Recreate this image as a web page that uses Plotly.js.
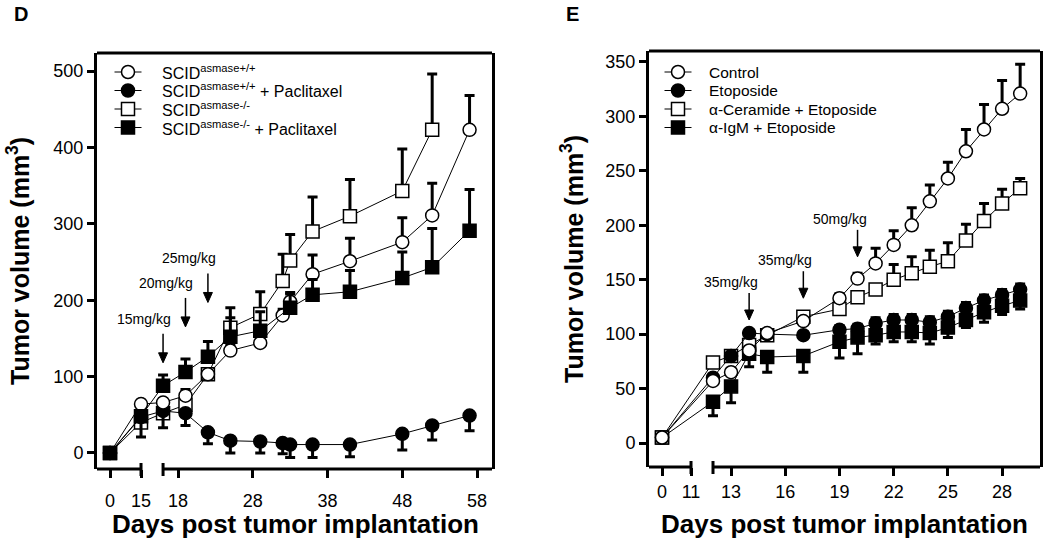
<!DOCTYPE html>
<html><head><meta charset="utf-8">
<script src="https://cdn.plot.ly/plotly-3.0.1.min.js"></script>
<style>html,body{margin:0;padding:0;background:#fff}#chart{width:1050px;height:543px}</style>
</head><body><div id="chart"></div>
<script>
// ---------- Panel D data ----------
const daysD = [0, 15, 16, 19, 22, 25, 29, 32, 33, 36, 41, 48, 52, 57];
const wtD       = [0, 64, 66, 75, 103, 134, 144, 180, 198, 234, 251, 276, 311, 423];
const wtDErr    = [0, 5, 5, 8, 5, 8, 5, 8, 10, 25, 30, 32, 42, 45];
const wtPacD    = [0, 47, 55, 52, 27, 16, 15, 13, 11, 11, 11, 25, 36, 49];
const wtPacDErr = [0, 26, 22, 16, 15, 16, 15, 14, 17, 17, 16, 21, 19, 20];
const koD       = [0, 40, 52, 63, 103, 164, 182, 225, 252, 290, 310, 343, 423, null];
const koDErr    = [0, 5, 5, 10, 5, 26, 29, 35, 34, 45, 48, 55, 73, null];
const koPacD    = [0, 48, 88, 106, 126, 152, 160, null, 190, 207, 211, 229, 243, 291];
const koPacDErr = [0, 5, 14, 17, 20, 25, 25, null, 20, 20, 28, 34, 51, 54];
const namesD = ['SCID<sup>asmase+/+</sup>', 'SCID<sup>asmase+/+</sup> + Paclitaxel',
                'SCID<sup>asmase-/-</sup>', 'SCID<sup>asmase-/-</sup> + Paclitaxel'];
const tickDaysD = [0, 15, 18, 28, 38, 48, 58];
const yTicksD = [0, 100, 200, 300, 400, 500];
const doseDaysD = [16, 19, 22];
const doseLabelsD = ['15mg/kg', '20mg/kg', '25mg/kg'];
const doseTipD = [118, 165, 197];

// ---------- Panel E data ----------
const daysE = [0, 12, 13, 14, 15, 17, 19, 20, 21, 22, 23, 24, 25, 26, 27, 28, 29];
const ctrlE    = [5, 57, 65, 85, 101, 112, 133, 151, 165, 182, 200, 222, 243, 268, 288, 307, 321];
const ctrlEErr = [0, 3, 3, 3, 3, 3, 4, 5, 14, 13, 16, 15, 15, 20, 23, 26, 27];
const etoE     = [5, 60, 80, 101, 100, 99, 104, 105, 110, 113, 113, 111, 116, 124, 131, 136, 141];
const etoEErr  = [0, 3, 3, 3, 3, 3, 4, 4, 5, 5, 5, 5, 5, 5, 5, 5, 5];
const cerE     = [5, 74, 80, 90, 99, 116, 123, 134, 141, 150, 156, 162, 167, 186, 204, 220, 234];
const cerEErr  = [0, 3, 3, 3, 3, 3, 3, 3, 3, 14, 15, 15, 17, 15, 16, 13, 9];
const igmE     = [5, 38, 52, 82, 79, 80, 93, 97, 99, 102, 102, 101, 106, 113, 120, 126, 131];
const igmEErr  = [0, 13, 15, 12, 14, 15, 15, 15, 8, 9, 9, 10, 9, 7, 9, 8, 8];
const namesE = ['Control', 'Etoposide', 'α-Ceramide + Etoposide', 'α-IgM + Etoposide'];
const tickDaysE = [0, 11, 13, 16, 19, 22, 25, 28];
const yTicksE = [0, 50, 100, 150, 200, 250, 300, 350];
const doseDaysE = [14, 17, 20];
const doseLabelsE = ['35mg/kg', '35mg/kg', '50mg/kg'];
const doseTipE = [113, 133, 171];

const xTitle = 'Days post tumor implantation';
const yTitle = 'Tumor volume (mm<sup>3</sup>)';

// ---------- broken-axis scales ----------
function brokenScale(end1, start2, scale1, gap) {
  return d => d <= end1 ? d * scale1 : end1 * scale1 + gap + (d - start2);
}
const pD = brokenScale(15, 16, 0.2765, 2.95);
const pE = brokenScale(11, 12, 0.1459, 1.217);
const xRangeD = [-1.74, 51.1];
const xRangeE = [-0.72, 20.92];
const W = 1050, H = 543;
const px = v => v / W, py = v => (H - v) / H;
const domXD = [px(97), px(492)];
const domXE = [px(649), px(1040)];
const domYD = [py(469), py(53)];
const domYE = [py(467), py(51)];

const FONT = 'Arial, "Liberation Sans", sans-serif';

const symbols = ['circle', 'circle', 'square', 'square'];
const filledStyle = [false, true, false, true];

function series(days, p, vals, errs, name, k, down, xa, ya) {
  const zeros = errs.map(e => e === null ? null : 0);
  return {
    type: 'scatter', mode: 'lines+markers', name: name, showlegend: false,
    x: days.map(p), y: vals, xaxis: xa, yaxis: ya,
    connectgaps: true, cliponaxis: false,
    line: {color: '#000', width: 1},
    marker: {symbol: symbols[k], size: 13, color: filledStyle[k] ? '#000' : '#fff', line: {color: '#000', width: 1.5}},
    error_y: {type: 'data', symmetric: false, array: down ? zeros : errs, arrayminus: down ? errs : zeros,
              color: '#000', thickness: 3, width: 5},
    hoverinfo: 'x+y'
  };
}

const traces = [
  series(daysD, pD, koD, koDErr, namesD[2], 2, false, 'x', 'y'),
  series(daysD, pD, wtPacD, wtPacDErr, namesD[1], 1, true, 'x', 'y'),
  series(daysD, pD, wtD, wtDErr, namesD[0], 0, false, 'x', 'y'),
  series(daysD, pD, koPacD, koPacDErr, namesD[3], 3, false, 'x', 'y'),
  series(daysE, pE, igmE, igmEErr, namesE[3], 3, true, 'x2', 'y2'),
  series(daysE, pE, cerE, cerEErr, namesE[2], 2, false, 'x2', 'y2'),
  series(daysE, pE, etoE, etoEErr, namesE[1], 1, false, 'x2', 'y2'),
  series(daysE, pE, ctrlE, ctrlEErr, namesE[0], 0, false, 'x2', 'y2')
];

function xAxis(dom, range, ticks, p, anchor, standoff) {
  return {
    domain: dom, range: range, anchor: anchor, tickmode: 'array',
    tickvals: ticks.map(p), ticktext: ticks.map(String),
    ticks: 'outside', ticklen: 8, tickwidth: 3, tickcolor: '#000', ticklabelstandoff: standoff,
    showline: false, showgrid: false, zeroline: false, automargin: false, fixedrange: true,
    tickfont: {size: 18, color: '#000'}
  };
}
function yAxis(dom, range, ticks, anchor) {
  return {
    domain: dom, range: range, anchor: anchor, tickmode: 'array', tickvals: ticks,
    ticks: 'outside', ticklen: 7, tickwidth: 3, tickcolor: '#000',
    showline: true, linewidth: 3, linecolor: '#000', mirror: true,
    showgrid: false, zeroline: false, automargin: false, fixedrange: true,
    tickfont: {size: 18, color: '#000'}
  };
}

function frameShapes(xa, range, p, end1, start2, domX, domY) {
  const yb = domY[0], yt = domY[1];
  const L = {color: '#000', width: 3};
  return [
    {type: 'line', xref: xa, yref: 'paper', x0: range[0], x1: p(end1), y0: yb, y1: yb, line: L},
    {type: 'line', xref: xa, yref: 'paper', x0: p(start2), x1: range[1], y0: yb, y1: yb, line: L},
    {type: 'line', xref: xa, yref: 'paper', x0: p(end1), x1: p(end1), y0: yb + 6 / H, y1: yb - 7 / H, line: L},
    {type: 'line', xref: xa, yref: 'paper', x0: p(start2), x1: p(start2), y0: yb + 6 / H, y1: yb - 7 / H, line: L},
    {type: 'line', xref: 'paper', yref: 'paper', x0: domX[0], x1: domX[1], y0: yt, y1: yt, line: L}
  ];
}

// dose arrows (shapes) + labels (annotations)
function doseShapes(days, tips, p, xa, ya, len) {
  const out = [];
  days.forEach((d, i) => {
    out.push({type: 'line', xref: xa, yref: ya, xsizemode: 'pixel', ysizemode: 'pixel',
              xanchor: p(d), yanchor: tips[i], x0: 0, x1: 0, y0: 8, y1: len,
              line: {color: '#000', width: 1.5}});
    out.push({type: 'path', xref: xa, yref: ya, xsizemode: 'pixel', ysizemode: 'pixel',
              xanchor: p(d), yanchor: tips[i], path: 'M0,0L-4.5,10L4.5,10Z',
              fillcolor: '#000', line: {color: '#000', width: 1}});
  });
  return out;
}
function doseLabels(days, labels, tips, p, xa, ya, tshift, xshift) {
  return days.map((d, i) => ({x: p(d), y: tips[i], xref: xa, yref: ya, text: labels[i], showarrow: false,
              xanchor: 'center', yanchor: 'middle',
              xshift: xshift, yshift: tshift, font: {size: 14, color: '#000'}}));
}

// manual legend (keys as shapes, names as text)
function legendShapes(keyX, rows) {
  const out = [];
  rows.forEach((ry, k) => {
    out.push({type: 'line', xref: 'paper', yref: 'paper', x0: px(keyX - 13.5), x1: px(keyX + 13.5),
              y0: py(ry), y1: py(ry), line: {color: '#000', width: 1}});
    out.push({type: symbols[k] === 'circle' ? 'circle' : 'rect', xref: 'paper', yref: 'paper',
              xsizemode: 'pixel', ysizemode: 'pixel', xanchor: px(keyX), yanchor: py(ry),
              x0: -6.5, x1: 6.5, y0: -6.5, y1: 6.5,
              fillcolor: filledStyle[k] ? '#000' : '#fff', line: {color: '#000', width: 1.5}});
  });
  return out;
}
function legendText(names, textX, rows, size) {
  return names.map((n, k) => ({text: n, xref: 'paper', yref: 'paper', x: px(textX), y: py(rows[k]),
    xanchor: 'left', yanchor: 'middle', showarrow: false, font: {size: size, color: '#000'}}));
}
const rowsD = [72, 90.5, 109, 127.5];
const rowsE = [72, 90.5, 109, 127.5];

function label(text, x, y, size, angle) {
  return {text: text, xref: 'paper', yref: 'paper', x: px(x), y: py(y), xanchor: 'center', yanchor: 'middle',
          textangle: angle || 0, showarrow: false, font: {size: size, weight: 700, color: '#000'}};
}
const titleAnnots = [
  label(yTitle, 18, 261, 25, -90),
  label(yTitle, 572, 259, 25, -90),
  label(xTitle, 295, 524, 26),
  label(xTitle, 844, 524, 26),
  label('D', 21, 14, 20),
  label('E', 572, 14, 20)
];

const layout = {
  width: W, height: H,
  margin: {l: 0, r: 0, t: 0, b: 0},
  paper_bgcolor: '#fff', plot_bgcolor: 'rgba(0,0,0,0)',
  font: {family: FONT, color: '#000'},
  showlegend: false,
  xaxis: xAxis(domXD, xRangeD, tickDaysD, pD, 'y', 7),
  yaxis: yAxis(domYD, [-21, 523.6], yTicksD, 'x'),
  xaxis2: xAxis(domXE, xRangeE, tickDaysE, pE, 'y2', 0),
  yaxis2: yAxis(domYE, [-22.05, 360.1], yTicksE, 'x2'),
  shapes: [].concat(
    frameShapes('x', xRangeD, pD, 15, 16, domXD, domYD),
    frameShapes('x2', xRangeE, pE, 11, 12, domXE, domYE),
    doseShapes(doseDaysD, doseTipD, pD, 'x', 'y', 29),
    doseShapes(doseDaysE, doseTipE, pE, 'x2', 'y2', 27),
    legendShapes(128, rowsD),
    legendShapes(678, rowsE)
  ),
  annotations: [].concat(
    doseLabels(doseDaysD, doseLabelsD, doseTipD, pD, 'x', 'y', 44, -19),
    doseLabels(doseDaysE, doseLabelsE, doseTipE, pE, 'x2', 'y2', 38, -18),
    legendText(namesD, 160, rowsD, 16),
    legendText(namesE, 707, rowsE, 15.5),
    titleAnnots
  )
};

Plotly.newPlot('chart', traces, layout, {displayModeBar: false, staticPlot: true});
</script>
</body></html>
